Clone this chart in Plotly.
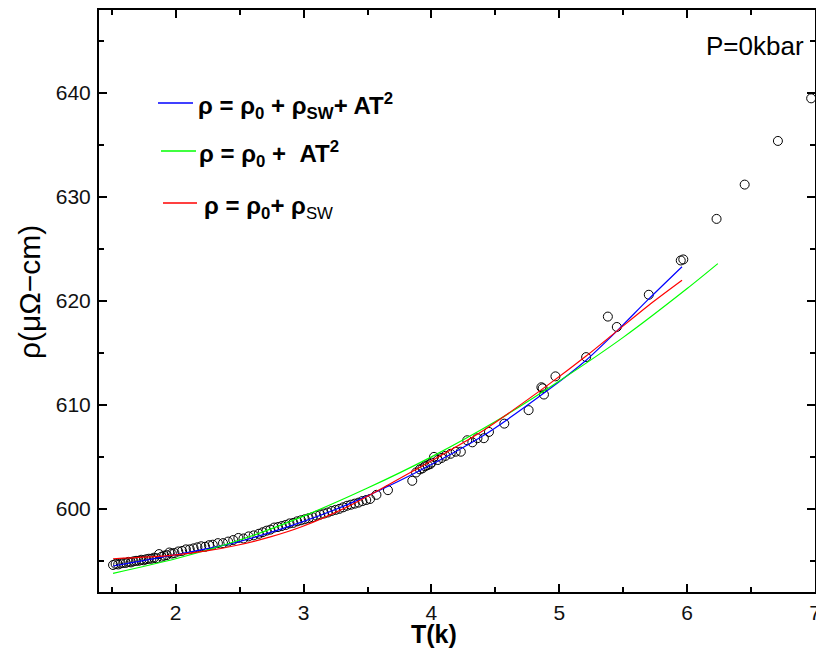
import plotly.graph_objects as go

# ---- data ----
T_data = [1.51, 1.53, 1.55, 1.57, 1.59, 1.61, 1.63, 1.65, 1.67, 1.69, 1.71, 1.73, 1.75, 1.77,
          1.79, 1.81, 1.83, 1.85, 1.87, 1.89, 1.91, 1.93, 1.95, 1.97, 1.99, 2.02, 2.05, 2.08,
          2.11, 2.14, 2.17, 2.20, 2.23, 2.26, 2.29, 2.33, 2.37, 2.41, 2.45, 2.49, 2.53, 2.57,
          2.61, 2.65, 2.68, 2.71, 2.74, 2.77, 2.80, 2.83, 2.86, 2.89, 2.92, 2.95, 2.98, 3.01,
          3.04, 3.07, 3.10, 3.13, 3.16, 3.19, 3.22, 3.25, 3.28, 3.31, 3.34, 3.37, 3.40, 3.43,
          3.46, 3.49, 3.52, 3.57,
          3.66, 3.85, 3.88, 3.91, 3.93, 3.95, 3.97, 3.99, 4.00, 4.02, 4.05, 4.08, 4.11, 4.15,
          4.19, 4.23, 4.28, 4.32, 4.36, 4.41, 4.45, 4.57, 4.76, 4.86, 4.87, 4.88, 4.97, 5.21,
          5.38, 5.45, 5.70, 5.95, 5.97, 6.23, 6.45, 6.71, 6.97]
rho_data = [594.6, 594.7, 594.65, 594.75, 594.8, 594.8, 594.9, 594.85, 594.95, 595.0, 595.0,
            595.1, 595.05, 595.15, 595.2, 595.2, 595.3, 595.25, 595.65, 595.4, 595.5, 595.55,
            595.8, 595.7, 595.75, 595.9, 595.95, 596.1, 596.1, 596.2, 596.3, 596.4, 596.35,
            596.5, 596.55, 596.7, 596.7, 596.85, 597.0, 597.2, 597.15, 597.35, 597.45, 597.6,
            597.75, 597.9, 598.0, 598.2, 598.25, 598.35, 598.45, 598.6, 598.65, 598.8, 598.9,
            599.0, 599.1, 599.2, 599.35, 599.45, 599.55, 599.65, 599.8, 599.9, 600.0, 600.15,
            600.3, 600.4, 600.5, 600.6, 600.75, 600.85, 600.95, 601.35,
            601.8, 602.7, 603.5, 603.8, 603.9, 604.1, 604.2, 604.3, 604.45, 605.0, 604.7, 604.9,
            605.1, 605.3, 605.5, 605.5, 606.6, 606.4, 606.8, 606.8, 607.4, 608.2, 609.5, 611.7,
            611.6, 611.0, 612.75, 614.6, 618.5, 617.5, 620.6, 623.9, 624.0, 627.9, 631.2, 635.4,
            639.5]

T_blue = [1.51, 1.98, 2.48, 2.99, 3.36, 3.88, 4.40, 4.92, 5.21, 5.45, 5.70, 5.96]
rho_blue = [594.5, 595.55, 596.8, 598.75, 600.5, 603.5, 607.0, 611.5, 614.3, 617.1, 620.2, 623.3]

T_green = [1.51, 2.0, 2.5, 3.0, 3.5, 4.0, 4.5, 5.0, 5.5, 6.0, 6.24]
rho_green = [593.8, 595.2, 597.0, 599.3, 602.0, 605.0, 608.4, 612.3, 616.5, 621.2, 623.6]

T_red = [1.51, 1.75, 1.98, 2.24, 2.48, 2.74, 2.99, 3.36, 3.88, 4.40, 4.92, 5.21, 5.45, 5.70, 5.96]
rho_red = [595.2, 595.35, 595.55, 595.95, 596.5, 597.3, 598.3, 600.3, 603.8, 607.5, 612.0, 614.7,
           617.1, 619.6, 622.0]

x_ticks = [2, 3, 4, 5, 6, 7]
y_ticks = [600, 610, 620, 630, 640]

FONT = "Liberation Sans, Arial, sans-serif"

fig = go.Figure()
fig.add_trace(go.Scatter(x=T_data, y=rho_data, mode="markers",
                         marker=dict(symbol="circle-open", size=9, color="black",
                                     line=dict(width=1, color="black")),
                         showlegend=False, cliponaxis=False))
fig.add_trace(go.Scatter(x=T_blue, y=rho_blue, mode="lines", line=dict(color="#0000ff", width=1.2, shape="spline", smoothing=0.8), showlegend=False))
fig.add_trace(go.Scatter(x=T_green, y=rho_green, mode="lines", line=dict(color="#00ff00", width=1.2, shape="spline", smoothing=0.8), showlegend=False))
fig.add_trace(go.Scatter(x=T_red, y=rho_red, mode="lines", line=dict(color="#ff0000", width=1.2, shape="spline", smoothing=0.8), showlegend=False))

axis_common = dict(showgrid=False, zeroline=False, showline=True, linecolor="black", linewidth=2,
                   mirror="allticks", ticks="inside", ticklen=8, tickwidth=2, tickcolor="black",
                   ticklabeloverflow="allow", automargin=False,
                   tickfont=dict(family=FONT, size=21, color="#111"))
fig.update_xaxes(range=[1.4, 7.0], tickvals=x_ticks, ticklabelstandoff=1,
                 minor=dict(dtick=0.5, tick0=1.5, ticks="inside", ticklen=5, tickwidth=2, tickcolor="black"),
                 **axis_common)
fig.update_yaxes(range=[592, 648], tickvals=y_ticks, ticklabelstandoff=2,
                 minor=dict(dtick=5, tick0=595, ticks="inside", ticklen=5, tickwidth=2, tickcolor="black"),
                 **axis_common)

def px(x):
    return (x - 99) / 716

def py(y):
    return (592 - y) / 582

shapes = []
for (x0, x1, y, c) in [(158, 193, 103, "#0000ff"), (161, 196, 151, "#00ff00"), (163, 197, 203, "#ff0000")]:
    shapes.append(dict(type="line", xref="paper", yref="paper", x0=px(x0), x1=px(x1), y0=py(y), y1=py(y),
                       line=dict(color=c, width=1.5)))

ann = []
lf = dict(family=FONT, size=24, color="black")
ann.append(dict(text="<b>ρ = ρ<sub>0</sub> + ρ<sub>SW</sub>+ AT<sup>2</sup></b>", x=px(196), y=py(106),
                xref="paper", yref="paper", xanchor="left", yanchor="middle", showarrow=False, font=lf))
ann.append(dict(text="<b>ρ = ρ<sub>0</sub> +  AT<sup>2</sup></b>", x=px(197), y=py(154),
                xref="paper", yref="paper", xanchor="left", yanchor="middle", showarrow=False, font=lf))
ann.append(dict(text="<b>ρ = ρ<sub>0</sub>+ ρ</b><sub>SW</sub>", x=px(202), y=py(207),
                xref="paper", yref="paper", xanchor="left", yanchor="middle", showarrow=False, font=lf))
ann.append(dict(text="P=0kbar", x=px(806), y=py(46), xref="paper", yref="paper",
                xanchor="right", yanchor="middle", showarrow=False,
                font=dict(family=FONT, size=26, color="black")))
ann.append(dict(text="<b>T(k)</b>", x=px(434), y=py(634), xref="paper", yref="paper",
                xanchor="center", yanchor="middle", showarrow=False,
                font=dict(family=FONT, size=25, color="black")))
ann.append(dict(text="ρ(μΩ−cm)", x=px(29), y=py(292), xref="paper", yref="paper",
                xanchor="center", yanchor="middle", showarrow=False, textangle=-90,
                font=dict(family=FONT, size=30, color="black")))

fig.update_layout(width=816, height=648, margin=dict(l=99, r=1, t=10, b=56, autoexpand=False),
                  paper_bgcolor="white", plot_bgcolor="white",
                  shapes=shapes, annotations=ann, showlegend=False)

fig.write_html("out.html")
